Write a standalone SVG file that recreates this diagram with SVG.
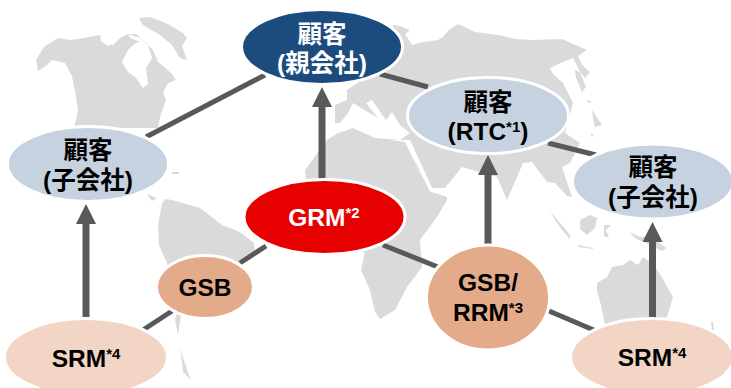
<svg xmlns="http://www.w3.org/2000/svg" width="731" height="388" viewBox="0 0 731 388">
<style>
.land{fill:#dadada}
.sea{fill:#fff}
.link{stroke:#595959;stroke-width:5;fill:none}
.arrow{stroke:#595959;stroke-width:7;fill:none;marker-end:url(#head)}
ellipse{stroke:#fff;stroke-width:3}
text{font-family:"Liberation Sans","Noto Sans CJK JP",sans-serif;font-weight:700;font-size:24.5px;text-anchor:middle;fill:#000}
.light{fill:#fff}
.sup{font-size:15px}
</style>
<defs>
<marker id="head" markerUnits="userSpaceOnUse" markerWidth="20" markerHeight="20" refX="1" refY="10" orient="auto">
<path d="M0,0L20,10L0,20z" fill="#595959"/>
</marker>
</defs>
<rect width="731" height="388" fill="#fff"/>
<g id="map">
<path class="land" d="M36,60L44,47L58,38L70,40L84,38L100,35L105,42L113,45L120,38L128,34L136,34L146,43L153,50L158,62L163,66L172,74L176,80L168,83L163,92L166,100L163,108L160,117L158,128L74,128L78,110L76,96L72,76L65,63L52,60L46,66L38,71Z"/>
<path class="sea" d="M122,62L128,50L134,44L141,41L148,45L152,58L146,68L148,84L143,88L136,78L128,72Z"/>
<path class="sea" d="M100,35L106,38L112,44L108,46L101,41ZM128,34L140,38L148,45L141,42L130,38Z"/>
<path class="land" d="M139,18L150,17L168,24L183,33L187,38L182,46L187,60L180,58L172,45L160,35L143,25Z"/>
<path class="land" d="M172,172L179,172L179,174L172,174ZM147,194L157,198L152,201Z"/>
<path class="land" d="M162,204L165,199L172,200L186,204L200,208L213,218L222,225L240,232L254,243L255,250L240,264L205,290L181,315L178,335L182,355L190,378L192,381L183,372L180,345L175,320L180,300L170,270L159,245L158,225Z"/>
<path class="land" d="M393,25L400,26L410,30L405,34L412,45L423,42L438,40L443,37L449,30L458,24L475,32L498,35L516,39L532,40L562,39L587,50L578,56L582,65L590,72L585,78L579,70L573,58L563,62L550,68L553,74L563,83L573,103L570,115L565,133L580,143L570,163L562,167L572,197L567,196L555,183L547,182L532,162L523,163L507,200L497,177L490,175L462,167L445,188L432,188L417,167L407,140L365,140L335,125L335,105L347,100L347,90L365,78L392,55Z"/>
<path class="land" d="M327,140L338,133L353,128L375,138L405,142L417,167L432,192L447,197L447,200L437,217L420,240L422,267L407,287L395,310L380,319L375,312L370,290L361,270L365,253L310,230L305,170Z"/>
<path class="sea" d="M333,123L338,133L353,128L375,138L400,140L410,133L400,125L392,112L386,120L372,100L366,103L378,118L353,103L348,113L340,123Z"/>
<path class="sea" d="M405,140L410,140L434,192L430,192Z"/>
<path class="land" d="M575,70L580,72L586,87L582,92L576,78ZM586,100L592,101L589,103ZM592,110L602,125L595,127L593,118ZM590,133L594,135L592,137Z"/>
<path class="land" d="M550,212L555,217L570,235L570,239L562,230Z"/>
<path class="land" d="M580,220L590,215L597,218L595,228L587,235L580,229Z"/>
<path class="land" d="M578,245L593,248L593,249L578,247ZM604,225L611,225L606,230L609,238L604,236Z"/>
<path class="land" d="M630,232L640,237L650,236L666,248L662,251L650,245L635,238Z"/>
<path class="land" d="M597,291L597,283L607,277L612,267L623,265L630,260L638,265L643,257L650,262L658,271L665,283L673,297L667,317L660,325L605,325L601,305Z"/>
<path class="land" d="M711,322L713,322L714,331L712,331Z"/>
</g>
<g id="connectors">
<line class="link" x1="146" y1="137" x2="265" y2="75"/>
<line class="link" x1="380" y1="74" x2="428" y2="87"/>
<line class="link" x1="548" y1="143" x2="596" y2="155"/>
<line class="link" x1="266" y1="246" x2="240" y2="263"/>
<line class="link" x1="172" y1="311" x2="143" y2="330"/>
<line class="link" x1="383" y1="245" x2="438" y2="267"/>
<line class="link" x1="549" y1="311" x2="596" y2="331"/>
<line class="arrow" x1="86" y1="322" x2="86" y2="223"/>
<line class="arrow" x1="322" y1="182" x2="322" y2="106"/>
<line class="arrow" x1="488" y1="249" x2="488" y2="174"/>
<line class="arrow" x1="652.5" y1="322" x2="652.5" y2="241"/>
</g>
<g id="customer-parent">
<ellipse cx="322" cy="47" rx="80.5" ry="37.5" fill="#1c4b7d"/>
<text class="light" x="322" y="43">顧客</text>
<text class="light" x="322" y="72">(親会社)</text>
</g>
<g id="customer-sub-left">
<ellipse cx="88" cy="164" rx="80.5" ry="37.5" fill="#c6d2df"/>
<text x="88" y="159">顧客</text>
<text x="88" y="189">(子会社)</text>
</g>
<g id="customer-rtc">
<ellipse cx="488" cy="115.5" rx="80.5" ry="38" fill="#c6d2df"/>
<text x="488" y="111">顧客</text>
<text x="488" y="140">(RTC<tspan class="sup" dy="-8">*1</tspan><tspan dy="8">)</tspan></text>
</g>
<g id="customer-sub-right">
<ellipse cx="653" cy="181.5" rx="80.5" ry="37.5" fill="#c6d2df"/>
<text x="653" y="176">顧客</text>
<text x="653" y="206">(子会社)</text>
</g>
<g id="grm">
<ellipse cx="324.5" cy="217" rx="80.5" ry="37.5" fill="#e60000"/>
<text class="light" x="324" y="226">GRM<tspan class="sup" dy="-8">*2</tspan></text>
</g>
<g id="gsb">
<ellipse cx="205" cy="287" rx="48.5" ry="31.5" fill="#e4ab8a"/>
<text x="205" y="296">GSB</text>
</g>
<g id="gsb-rrm">
<ellipse cx="488" cy="297.5" rx="61.5" ry="52.5" fill="#e4ab8a"/>
<text x="488" y="291">GSB/</text>
<text x="488" y="321">RRM<tspan class="sup" dy="-8">*3</tspan></text>
</g>
<g id="srm-left">
<ellipse cx="86" cy="357" rx="81.5" ry="38.5" fill="#f2d5c4"/>
<text x="86" y="367">SRM<tspan class="sup" dy="-8">*4</tspan></text>
</g>
<g id="srm-right">
<ellipse cx="652" cy="357" rx="81.5" ry="38.5" fill="#f2d5c4"/>
<text x="652" y="366">SRM<tspan class="sup" dy="-8">*4</tspan></text>
</g>
</svg>
